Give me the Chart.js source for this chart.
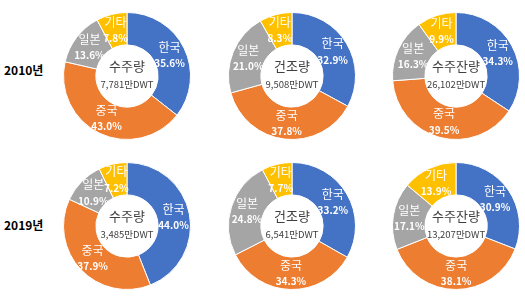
<!DOCTYPE html>
<html><head><meta charset="utf-8">
<script src="https://cdn.jsdelivr.net/npm/chart.js@4"></script>
<style>
html,body{margin:0;padding:0;background:#fff;width:525px;height:302px;overflow:hidden;}
#wrap{position:relative;width:525px;height:302px;}
canvas{position:absolute;}
.row{position:absolute;font-family:"Noto Sans CJK KR","Noto Sans",sans-serif;font-weight:bold;font-size:12px;color:#000;line-height:14px;}
</style></head><body>
<div id="wrap"></div>
<script>
const categories = ['한국','중국','일본','기타'];
const rowLabels = ['2010년','2019년'];
const chartTitles = ['수주량','건조량','수주잔량','수주량','건조량','수주잔량'];
const totals = ['7,781만DWT','9,508만DWT','26,102만DWT','3,485만DWT','6,541만DWT','13,207만DWT'];
const share2010Orders = [35.6, 43.0, 13.6, 7.8];
const share2010Built = [32.9, 37.8, 21.0, 8.3];
const share2010Backlog = [34.3, 39.5, 16.3, 9.9];
const share2019Orders = [44.0, 37.9, 10.9, 7.2];
const share2019Built = [33.2, 34.3, 24.8, 7.7];
const share2019Backlog = [30.9, 38.1, 17.1, 13.9];
const allShares = [share2010Orders, share2010Built, share2010Backlog, share2019Orders, share2019Built, share2019Backlog];

const colors = ['#4472C4','#ED7D31','#A5A5A5','#FFC000'];
const centersX = [127, 292, 456];
const centersY = [76, 226];
const rowLabelY = [70, 225];
const SIZE = 150;
const FONT = '"Noto Sans CJK KR","Noto Sans",sans-serif';
const wrap = document.getElementById('wrap');

rowLabels.forEach((t,i)=>{
  const d = document.createElement('div');
  d.className='row'; d.textContent=t;
  d.style.left='4px'; d.style.top=(rowLabelY[i]-7)+'px';
  wrap.appendChild(d);
});

const labelPlugin = {
  id:'lbl',
  afterDatasetsDraw(chart, args, opts){
    const ctx = chart.ctx;
    const meta = chart.getDatasetMeta(0);
    const ds = chart.data.datasets[0];
    ctx.save();
    ctx.textAlign='center'; ctx.textBaseline='middle';
    ctx.fillStyle='#fff';
    meta.data.forEach((arc,i)=>{
      const mid = (arc.startAngle+arc.endAngle)/2;
      const r = (arc.innerRadius+arc.outerRadius)/2;
      const x = arc.x + Math.cos(mid)*r;
      const y = arc.y + Math.sin(mid)*r;
      ctx.font = '12px '+FONT;
      ctx.fillText(chart.data.labels[i], x, y-8);
      ctx.font = 'bold 10px '+FONT;
      ctx.fillText(ds.data[i].toFixed(1)+'%', x, y+8);
    });
    const a = meta.data[0];
    ctx.fillStyle='#404040';
    ctx.font='13px '+FONT;
    ctx.fillText(opts.title, a.x, a.y-10);
    ctx.font='9.5px '+FONT;
    ctx.fillText(opts.total, a.x, a.y+8);
    ctx.restore();
  }
};

allShares.forEach((vals, k)=>{
  const c = document.createElement('canvas');
  const cx = centersX[k%3], cy = centersY[Math.floor(k/3)];
  c.width=SIZE; c.height=SIZE;
  c.style.width=SIZE+'px'; c.style.height=SIZE+'px';
  c.style.left=(cx-SIZE/2)+'px'; c.style.top=(cy-SIZE/2)+'px';
  wrap.appendChild(c);
  new Chart(c, {
    type:'doughnut',
    data:{labels:categories, datasets:[{data:vals, backgroundColor:colors, borderColor:'#ffffff', borderWidth:1}]},
    options:{
      responsive:false, maintainAspectRatio:false, animation:false,
      cutout:'49%', rotation:0,
      layout:{padding:11},
      plugins:{legend:{display:false}, tooltip:{enabled:false}, lbl:{title:chartTitles[k], total:totals[k]}}
    },
    plugins:[labelPlugin]
  });
});
</script>
</body></html>
